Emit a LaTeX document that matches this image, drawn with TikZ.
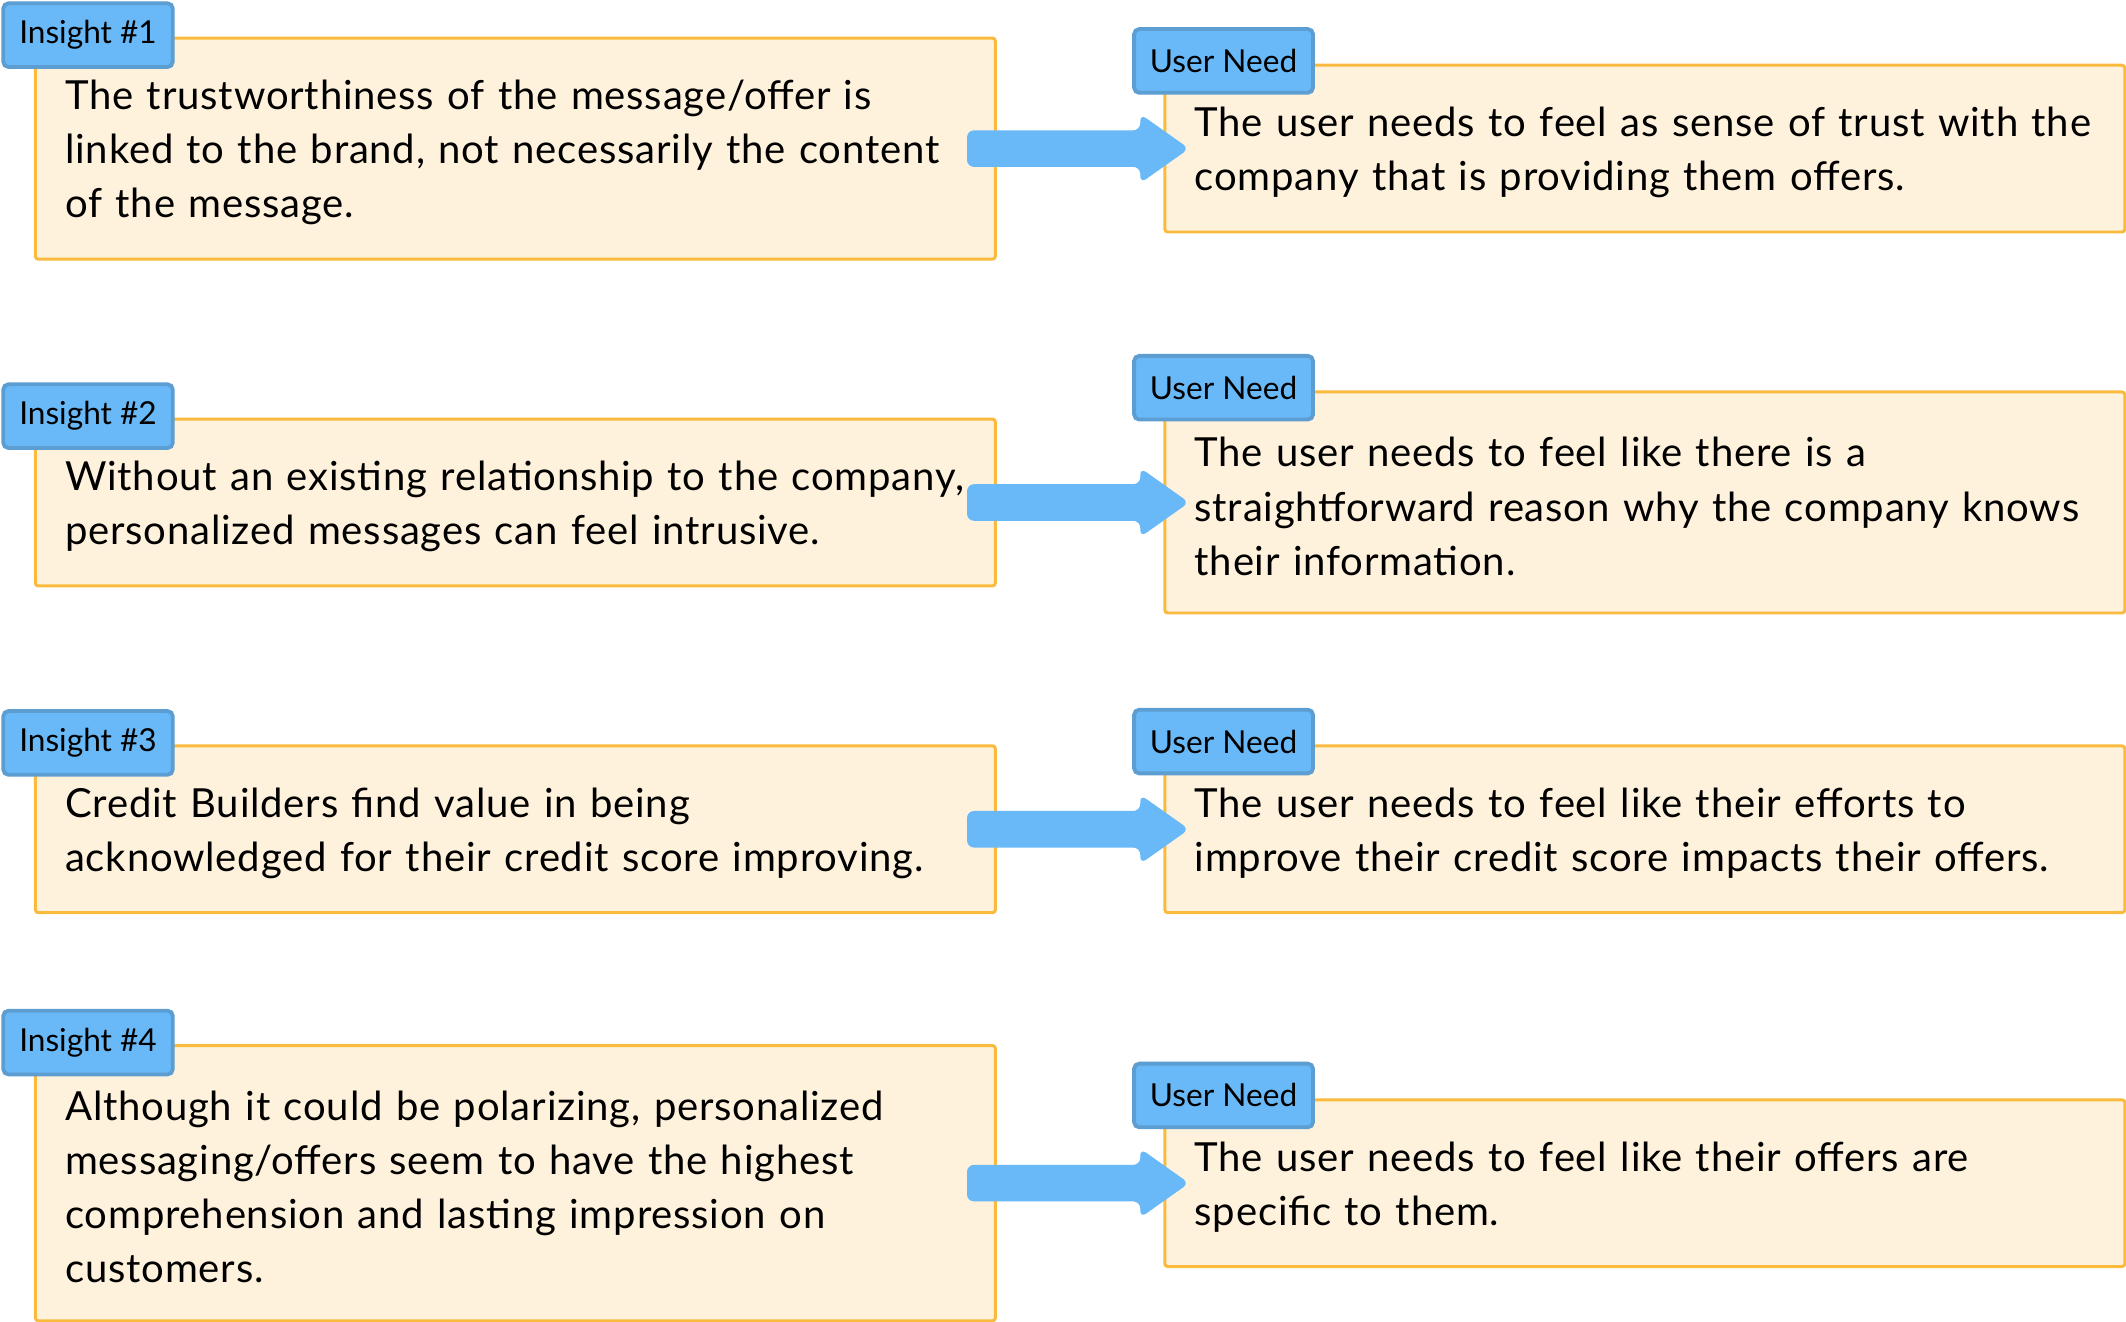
\documentclass[tikz,border=0pt]{standalone}
\usepackage{fontspec}
\setmainfont{Lato}
\newfontfamily\bodyfont{Lato}[LetterSpace=2]
\usetikzlibrary{calc}
\definecolor{boxfill}{HTML}{FFF2DC}
\definecolor{boxline}{HTML}{F9BA3E}
\definecolor{tagfill}{HTML}{69B9F8}
\definecolor{tagline}{HTML}{5C9DD2}
\def\u{0.13559mm}
\tikzset{
  insbox/.style={draw=boxline, fill=boxfill, line width=0.85pt, rounded corners=0.8pt,
    anchor=north west, inner xsep=22*\u, inner ysep=0pt, text width=664*\u, align=left,
    minimum width=708*\u, font=\bodyfont\fontsize{11.4}{15.4}\selectfont,
    execute at end node={\vspace*{-0.8mm}}},
  tagbox/.style={draw=tagline, fill=tagfill, line width=1.1pt, rounded corners=1.5pt,
    anchor=north west, inner sep=0pt, minimum height=47*\u, font=\fontsize{9}{11}\selectfont},
  bigarrow/.style={fill=tagfill, rounded corners=2pt}
}
\begin{document}
\begin{tikzpicture}[x=\u, y=-\u]
  \useasboundingbox (0,0) rectangle (1568,975);
  % insights
  \node[insbox, minimum height=163*\u] (ins1) at (25,27) {The trustworthiness of the message/offer is\\linked to the brand, not necessarily the content\\of the message.};
  \node[insbox, minimum height=123*\u] (ins2) at (25,308) {Without an existing relationship to the company,\\personalized messages can feel intrusive.};
  \node[insbox, minimum height=123*\u] (ins3) at (25,549) {Credit Builders find value in being\\acknowledged for their credit score improving.};
  \node[insbox, minimum height=203*\u] (ins4) at (25,770) {Although it could be polarizing, personalized\\messaging/offers seem to have the highest\\comprehension and lasting impression on\\customers.};
  % user needs
  \node[insbox, minimum height=123*\u] (need1) at (858,47) {The user needs to feel as sense of trust with the\\company that is providing them offers.};
  \node[insbox, minimum height=163*\u] (need2) at (858,288) {The user needs to feel like there is a\\straightforward reason why the company knows\\their information.};
  \node[insbox, minimum height=123*\u] (need3) at (858,549) {The user needs to feel like their efforts to\\improve their credit score impacts their offers.};
  \node[insbox, minimum height=123*\u] (need4) at (858,810) {The user needs to feel like their offers are\\specific to them.};
  % tags
  \foreach \i in {1,...,4}{
    \node[tagbox, minimum width=125*\u] (instag\i) at ($(ins\i.north west)+(-24,-26)$) {Insight \#\i};
    \node[tagbox, minimum width=132*\u] (needtag\i) at ($(need\i.north west)+(-23,-27)$) {User Need};
  }
  % arrows
  \foreach \i in {1,...,4}
    \fill[bigarrow] ($(ins\i.east)+(-22,-13.5)$) -- ($(need\i.west)+(-17,-13.5)$)
      -- ($(need\i.west)+(-17,-25.5)$) -- ($(need\i.west)+(19,0)$)
      -- ($(need\i.west)+(-17,25.5)$) -- ($(need\i.west)+(-17,13.5)$)
      -- ($(ins\i.east)+(-22,13.5)$) -- cycle;
\end{tikzpicture}
\end{document}
